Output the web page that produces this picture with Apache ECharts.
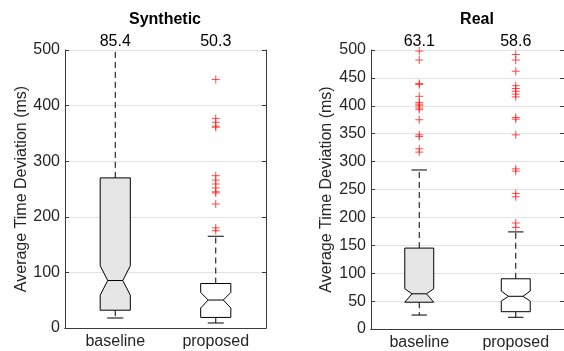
<!DOCTYPE html>
<html>
<head>
<meta charset="utf-8">
<script src="https://cdn.jsdelivr.net/npm/echarts@6/dist/echarts.min.js"></script>
<style>
html,body{margin:0;padding:0;background:#fff;}
#chart{width:564px;height:351px;}
</style>
</head>
<body>
<div id="chart"></div>
<script>
// ---------- data ----------
const categories = ['baseline', 'proposed'];

// Synthetic panel
const synMedianLabels = ['85.4', '50.3'];
const synWhiskerLo = [18, 9];
const synQ1 = [32, 19];
const synNotchLo = [59, 36];
const synMedian = [85.4, 50.3];
const synNotchHi = [112, 64];
const synQ3 = [270, 80];
const synWhiskerHi = [560, 165];
const synOutliersBaseline = [];
const synOutliersProposed = [447, 377, 370, 363, 361, 274, 266, 259, 252, 245, 243, 223, 180, 175];
const synTicks = [0, 100, 200, 300, 400, 500];

// Real panel
const realMedianLabels = ['63.1', '58.6'];
const realWhiskerLo = [25, 21];
const realQ1 = [48, 31];
const realNotchLo = [48, 50];
const realMedian = [63.1, 58.6];
const realNotchHi = [72, 68];
const realQ3 = [145, 90];
const realWhiskerHi = [285, 174];
const realOutliersBaseline = [498, 482, 440, 438, 417, 406, 403, 400, 396, 393, 375, 348, 345, 323, 317];
const realOutliersProposed = [492, 482, 462, 436, 431, 426, 421, 416, 379, 376, 348, 287, 283, 243, 237, 190, 182];
const realTicks = [0, 50, 100, 150, 200, 250, 300, 350, 400, 450, 500];

// ---------- styles ----------
const boxFills = ['#e6e6e6', '#ffffff'];
const FONT = 'Liberation Sans, Arial, Helvetica, sans-serif';
const AXIS_COLOR = '#3a3a3a';
const TEXT_COLOR = '#262626';

function boxRows(wl, q1, nl, med, nh, q3, wh) {
  return categories.map((c, i) => [i, wl[i], q1[i], nl[i], med[i], nh[i], q3[i], wh[i]]);
}
function outlierRows(lists) {
  const rows = [];
  lists.forEach((list, i) => list.forEach(v => rows.push([i, v])));
  return rows;
}

function renderBox(params, api) {
  const idx = api.value(0);
  const pt = v => api.coord([idx, v]);
  const band = api.size([1, 0])[0];
  const hw = band * 0.15, nw = band * 0.075, cw = band * 0.08;
  const cx = pt(api.value(4))[0];
  const yWl = pt(api.value(1))[1];
  const yQ1 = pt(api.value(2))[1];
  const yNl = pt(api.value(3))[1];
  const yMed = pt(api.value(4))[1];
  const yNh = pt(api.value(5))[1];
  const yQ3 = pt(api.value(6))[1];
  const yWh = pt(api.value(7))[1];
  const solid = { stroke: '#000', lineWidth: 1, fill: null };
  const dashed = { stroke: '#000', lineWidth: 1, lineDash: [6, 4], fill: null };
  return {
    type: 'group',
    children: [
      { type: 'line', shape: { x1: cx, y1: yQ3, x2: cx, y2: yWh }, style: dashed },
      { type: 'line', shape: { x1: cx, y1: yQ1, x2: cx, y2: yWl }, style: dashed },
      { type: 'line', shape: { x1: cx - cw, y1: yWh, x2: cx + cw, y2: yWh }, style: solid },
      { type: 'line', shape: { x1: cx - cw, y1: yWl, x2: cx + cw, y2: yWl }, style: solid },
      {
        type: 'polygon',
        shape: {
          points: [
            [cx - hw, yQ3], [cx + hw, yQ3], [cx + hw, yNh], [cx + nw, yMed], [cx + hw, yNl],
            [cx + hw, yQ1], [cx - hw, yQ1], [cx - hw, yNl], [cx - nw, yMed], [cx - hw, yNh]
          ]
        },
        style: { fill: boxFills[idx], stroke: '#000', lineWidth: 1 }
      },
      { type: 'line', shape: { x1: cx - nw, y1: yMed, x2: cx + nw, y2: yMed }, style: solid }
    ]
  };
}

const grids = [
  { left: 65, right: 298, top: 50, bottom: 23 },
  { left: 371, right: -7, top: 50, bottom: 22 }
];

function xAxes(gi, medLabels) {
  return [
    {
      gridIndex: gi, type: 'category', data: categories, position: 'bottom',
      axisLine: { lineStyle: { color: AXIS_COLOR, width: 1 } },
      axisTick: { inside: true, alignWithLabel: true, length: 4, lineStyle: { color: AXIS_COLOR } },
      axisLabel: { color: TEXT_COLOR, fontFamily: FONT, fontSize: 16, margin: 6 },
      splitLine: { show: false }
    },
    {
      gridIndex: gi, type: 'category', data: medLabels, position: 'top',
      axisLine: { lineStyle: { color: AXIS_COLOR, width: 1 } },
      axisTick: { inside: true, alignWithLabel: true, length: 4, lineStyle: { color: AXIS_COLOR } },
      axisLabel: { color: '#000', fontFamily: FONT, fontSize: 16, margin: 0 },
      splitLine: { show: false }
    }
  ];
}
function yAxes(gi, interval, nameGap) {
  return [
    {
      gridIndex: gi, type: 'value', min: 0, max: 500, interval: interval, position: 'left',
      name: 'Average Time Deviation (ms)', nameLocation: 'middle', nameGap: nameGap,
      nameTextStyle: { color: TEXT_COLOR, fontFamily: FONT, fontSize: 16 },
      axisLine: { show: true, lineStyle: { color: AXIS_COLOR, width: 1 } },
      axisTick: { show: true, inside: true, length: 4, lineStyle: { color: AXIS_COLOR } },
      axisLabel: { color: TEXT_COLOR, fontFamily: FONT, fontSize: 16, margin: 5 },
      splitLine: { show: true, lineStyle: { color: '#e3e3e3', width: 1 } }
    },
    {
      gridIndex: gi, type: 'value', min: 0, max: 500, interval: interval, position: 'right',
      axisLine: { show: true, lineStyle: { color: AXIS_COLOR, width: 1 } },
      axisTick: { show: true, inside: true, length: 4, lineStyle: { color: AXIS_COLOR } },
      axisLabel: { show: false },
      splitLine: { show: false }
    }
  ];
}

const plusSymbol = 'path://M5,0L5,10M0,5L10,5';

const option = {
  animation: false,
  backgroundColor: '#ffffff',
  grid: grids,
  xAxis: [...xAxes(0, synMedianLabels), ...xAxes(1, realMedianLabels)],
  yAxis: [...yAxes(0, synTicks[1] - synTicks[0], 34), ...yAxes(1, realTicks[1] - realTicks[0], 36)],
  graphic: [
    { type: 'text', x: 165, y: 20, style: { text: 'Synthetic', font: 'bold 16px ' + FONT, fill: '#000', textAlign: 'center', textVerticalAlign: 'middle' } },
    { type: 'text', x: 477, y: 20, style: { text: 'Real', font: 'bold 16px ' + FONT, fill: '#000', textAlign: 'center', textVerticalAlign: 'middle' } }
  ],
  series: [
    {
      type: 'custom', xAxisIndex: 0, yAxisIndex: 0, clip: true,
      renderItem: renderBox, encode: { x: 0, y: [1, 2, 3, 4, 5, 6, 7] },
      data: boxRows(synWhiskerLo, synQ1, synNotchLo, synMedian, synNotchHi, synQ3, synWhiskerHi),
      z: 3
    },
    {
      type: 'scatter', xAxisIndex: 0, yAxisIndex: 0,
      symbol: plusSymbol, symbolSize: 8,
      itemStyle: { color: 'transparent', borderColor: '#ff2020', borderWidth: 1 },
      data: outlierRows([synOutliersBaseline, synOutliersProposed]),
      z: 4
    },
    {
      type: 'custom', xAxisIndex: 2, yAxisIndex: 2, clip: true,
      renderItem: renderBox, encode: { x: 0, y: [1, 2, 3, 4, 5, 6, 7] },
      data: boxRows(realWhiskerLo, realQ1, realNotchLo, realMedian, realNotchHi, realQ3, realWhiskerHi),
      z: 3
    },
    {
      type: 'scatter', xAxisIndex: 2, yAxisIndex: 2,
      symbol: plusSymbol, symbolSize: 8,
      itemStyle: { color: 'transparent', borderColor: '#ff2020', borderWidth: 1 },
      data: outlierRows([realOutliersBaseline, realOutliersProposed]),
      z: 4
    }
  ]
};

const chart = echarts.init(document.getElementById('chart'), null, { renderer: 'canvas' });
chart.setOption(option);
</script>
</body>
</html>
